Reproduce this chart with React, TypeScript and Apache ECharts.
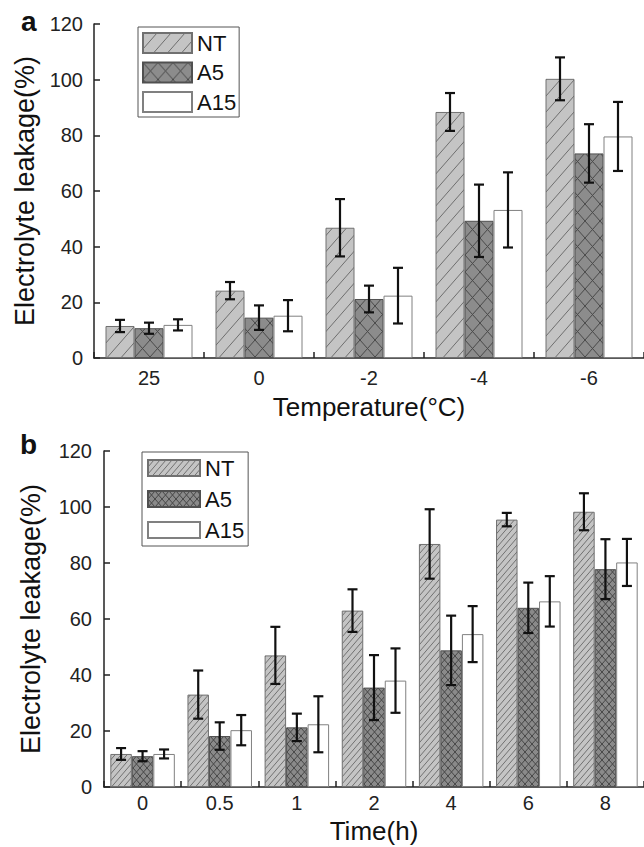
import React, { useEffect, useRef } from 'react';
import * as echarts from 'echarts';

const tempCategories = ['25', '0', '-2', '-4', '-6'];
const tempNT = [11.5, 24.2, 46.8, 88.4, 100.3];
const tempNTErr = [2.2, 3.1, 10.3, 6.8, 7.7];
const tempA5 = [10.7, 14.5, 21.2, 49.3, 73.5];
const tempA5Err = [2.0, 4.4, 4.8, 13.0, 10.5];
const tempA15 = [11.9, 15.2, 22.4, 53.2, 79.6];
const tempA15Err = [2.0, 5.6, 10.0, 13.5, 12.4];

const timeCategories = ['0', '0.5', '1', '2', '4', '6', '8'];
const timeNT = [11.8, 33.0, 47.0, 63.0, 86.8, 95.5, 98.3];
const timeNTErr = [2.1, 8.6, 10.2, 7.6, 12.4, 2.4, 6.6];
const timeA5 = [11.0, 18.2, 21.3, 35.5, 48.8, 64.0, 77.8];
const timeA5Err = [1.8, 4.9, 4.9, 11.6, 12.4, 9.0, 10.7];
const timeA15 = [11.8, 20.3, 22.4, 38.0, 54.6, 66.3, 80.2];
const timeA15Err = [1.6, 5.4, 10.0, 11.5, 10.0, 9.0, 8.4];

const seriesNames = ['NT', 'A5', 'A15'];
const yTicks = { min: 0, max: 120, interval: 20 };

const FONT = '"Liberation Sans", Arial, sans-serif';

function hatchTile(w: number, h: number, bg: string, fg: string, cross: boolean, lw: number) {
  const c = document.createElement('canvas');
  c.width = w;
  c.height = h;
  const ctx = c.getContext('2d')!;
  ctx.fillStyle = bg;
  ctx.fillRect(0, 0, w, h);
  ctx.strokeStyle = fg;
  ctx.lineWidth = lw;
  ctx.beginPath();
  for (let k = -1; k <= 1; k++) {
    ctx.moveTo(k * w, h);
    ctx.lineTo(k * w + w, 0);
    if (cross) {
      ctx.moveTo(k * w, 0);
      ctx.lineTo(k * w + w, h);
    }
  }
  ctx.stroke();
  return { image: c.toDataURL(), repeat: 'repeat', imageWidth: w, imageHeight: h };
}

function buildPanel(
  idx: number,
  values: number[][],
  errs: number[][],
  fills: any[],
  barWidth: number
) {
  const borders = ['#707070', '#505050', '#808080'];
  const out: any[] = [];
  values.forEach((vals, k) => {
    out.push({
      type: 'bar',
      name: seriesNames[k],
      xAxisIndex: idx,
      yAxisIndex: idx,
      data: vals,
      barWidth,
      barGap: '0%',
      itemStyle: { color: fills[k], borderColor: borders[k], borderWidth: 1 },
      z: 2,
    });
  });
  values.forEach((vals, k) => {
    const offset = (k - 1) * barWidth;
    out.push({
      type: 'custom',
      xAxisIndex: idx,
      yAxisIndex: idx,
      silent: true,
      z: 5,
      encode: { x: 0, y: 1 },
      data: vals.map((v, i) => [i, v, errs[k][i]]),
      renderItem: (params: any, api: any) => {
        const i = api.value(0);
        const m = api.value(1);
        const e = api.value(2);
        const top = api.coord([i, m + e]);
        const bot = api.coord([i, m - e]);
        const x = top[0] + offset;
        const cap = 5;
        const st = { stroke: '#111', lineWidth: 2.2 };
        return {
          type: 'group',
          children: [
            { type: 'line', shape: { x1: x, y1: top[1], x2: x, y2: bot[1] }, style: st },
            { type: 'line', shape: { x1: x - cap, y1: top[1], x2: x + cap, y2: top[1] }, style: st },
            { type: 'line', shape: { x1: x - cap, y1: bot[1], x2: x + cap, y2: bot[1] }, style: st },
          ],
        };
      },
    });
  });
  return out;
}

export default function App() {
  const ref = useRef<HTMLDivElement>(null);
  useEffect(() => {
    if (!ref.current) return;
    const chart = echarts.init(ref.current, undefined, { renderer: 'svg' });

    const aFills = [
      hatchTile(14, 16, '#c4c4c4', '#6e6e6e', false, 1),
      hatchTile(15, 17, '#8c8c8c', '#4a4a4a', true, 1),
      '#ffffff',
    ];
    const bFills = [
      hatchTile(6, 7, '#c4c4c4', '#707070', false, 1),
      hatchTile(7, 8, '#8a8a8a', '#474747', true, 1),
      '#ffffff',
    ];

    const axisLine = { show: true, lineStyle: { color: '#222', width: 1.5 } };
    const tickStyle = { show: true, inside: true, length: 6, lineStyle: { color: '#222', width: 1.5 } };
    const labelStyle = { color: '#222', fontSize: 20, fontFamily: FONT };

    const xAxisBase = (data: string[], gridIndex: number, name: string, nameGap: number, margin: number) => ({
      type: 'category',
      gridIndex,
      data,
      name,
      nameLocation: 'middle',
      nameGap,
      nameTextStyle: { color: '#111', fontSize: 26, fontFamily: FONT },
      axisLine,
      axisTick: tickStyle,
      axisLabel: { ...labelStyle, margin },
      splitLine: { show: false },
    });
    const yAxisBase = (gridIndex: number, nameGap: number, margin: number) => ({
      type: 'value',
      gridIndex,
      ...yTicks,
      name: 'Electrolyte leakage(%)',
      nameLocation: 'middle',
      nameGap,
      nameTextStyle: { color: '#111', fontSize: 27, fontFamily: FONT },
      axisLine,
      axisTick: tickStyle,
      axisLabel: { ...labelStyle, margin },
      splitLine: { show: false },
    });

    const legendText = { color: '#111', fontSize: 22, fontFamily: FONT };

    chart.setOption({
      animation: false,
      backgroundColor: '#ffffff',
      grid: [
        { left: 94, top: 24, width: 550, height: 334 },
        { left: 104, top: 451, width: 542, height: 336 },
      ],
      xAxis: [
        xAxisBase(tempCategories, 0, 'Temperature(°C)', 36, 10),
        xAxisBase(timeCategories, 1, 'Time(h)', 31, 6),
      ],
      yAxis: [yAxisBase(0, 52, 11), yAxisBase(1, 60, 12)],
      legend: [
        {
          left: 138,
          top: 27,
          orient: 'vertical',
          icon: 'rect',
          selectedMode: false,
          itemWidth: 49,
          itemHeight: 20,
          itemGap: 7.5,
          padding: [5, 3, 4, 4],
          borderColor: '#555',
          borderWidth: 1,
          textStyle: { ...legendText, lineHeight: 20 },
          data: seriesNames.map((n, k) => ({ name: n, itemStyle: { color: aFills[k] } })),
        },
        {
          left: 142,
          top: 452,
          orient: 'vertical',
          icon: 'rect',
          selectedMode: false,
          itemWidth: 52,
          itemHeight: 16,
          itemGap: 9,
          padding: [5, 4, 5, 5],
          borderColor: '#555',
          borderWidth: 1,
          textStyle: { ...legendText, lineHeight: 16 },
          data: seriesNames.map((n, k) => ({ name: n, itemStyle: { color: bFills[k] } })),
        },
      ],
      graphic: [
        {
          type: 'text',
          style: { text: 'a', x: 21, y: 21, verticalAlign: 'middle', align: 'left', fontSize: 28, fontWeight: 'bold', fontFamily: FONT, fill: '#111' },
        },
        {
          type: 'text',
          style: { text: 'b', x: 20, y: 444, verticalAlign: 'middle', align: 'left', fontSize: 28, fontWeight: 'bold', fontFamily: FONT, fill: '#111' },
        },
      ],
      series: [
        ...buildPanel(0, [tempNT, tempA5, tempA15], [tempNTErr, tempA5Err, tempA15Err], aFills, 29),
        ...buildPanel(1, [timeNT, timeA5, timeA15], [timeNTErr, timeA5Err, timeA15Err], bFills, 21.5),
      ],
    });
    return () => chart.dispose();
  }, []);
  return (
    <div
      ref={ref}
      style={{ position: 'absolute', left: 0, top: 0, width: 644, height: 847, background: '#fff' }}
    />
  );
}
